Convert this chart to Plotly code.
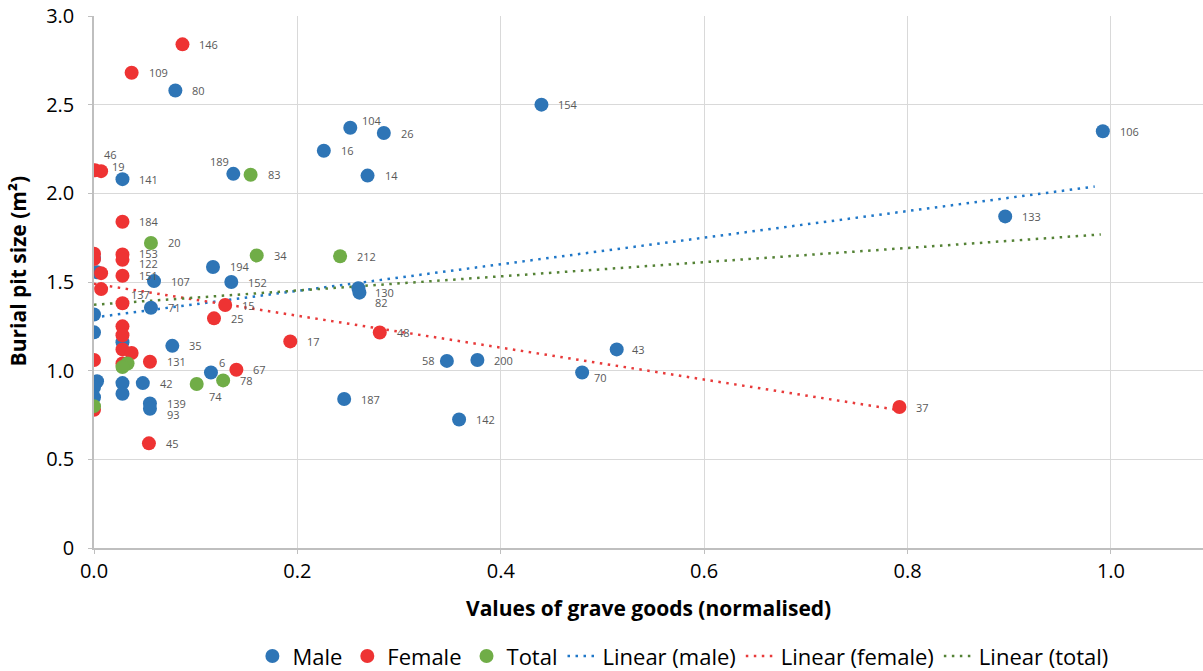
import numpy as np
import plotly.graph_objects as go

# ---------------- data ----------------
male_x = [0.080, 0.440, 0.992, 0.252, 0.285, 0.226, 0.269, 0.137, 0.028, 0.117,
          0.135, 0.059, 0.260, 0.261, 0.896, 0.056, 0.077, 0.115, 0.048, 0.055,
          0.055, 0.246, 0.347, 0.377, 0.359, 0.480, 0.514,
          0.000, 0.003, 0.000, 0.000, 0.028, 0.003, 0.000, 0.000, 0.028, 0.028]
male_y = [2.58, 2.50, 2.35, 2.37, 2.34, 2.24, 2.10, 2.11, 2.08, 1.585,
          1.50, 1.505, 1.465, 1.44, 1.87, 1.355, 1.14, 0.99, 0.93, 0.815,
          0.785, 0.84, 1.055, 1.06, 0.725, 0.99, 1.12,
          1.635, 1.555, 1.317, 1.216, 1.16, 0.94, 0.906, 0.85, 0.93, 0.87]
male_lbl = ["80", "154", "106", "104", "26", "16", "14", "189", "141", "194",
            "152", "107", "130", "82", "133", "71", "35", "6", "42", "139",
            "93", "187", "58", "200", "142", "70", "43",
            "", "", "", "", "", "", "", "", "", ""]

female_x = [0.087, 0.037, 0.007, 0.001, 0.028, 0.028, 0.028, 0.028, 0.028, 0.129,
            0.118, 0.193, 0.281, 0.055, 0.140, 0.054, 0.792,
            0.000, 0.000, 0.007, 0.007, 0.028, 0.028, 0.028, 0.037, 0.028, 0.000, 0.000]
female_y = [2.84, 2.68, 2.125, 2.13, 1.84, 1.655, 1.625, 1.535, 1.38, 1.37,
            1.295, 1.165, 1.215, 1.05, 1.005, 0.59, 0.795,
            1.66, 1.63, 1.55, 1.46, 1.25, 1.20, 1.12, 1.10, 1.04, 1.06, 0.78]
female_lbl = ["146", "109", "46", "19", "184", "153", "122", "151", "137", "15",
              "25", "17", "48", "131", "67", "45", "37",
              "", "", "", "", "", "", "", "", "", "", ""]

total_x = [0.154, 0.056, 0.160, 0.242, 0.101, 0.127, 0.033, 0.028, 0.000]
total_y = [2.105, 1.72, 1.65, 1.645, 0.925, 0.945, 1.04, 1.02, 0.80]
total_lbl = ["83", "20", "34", "212", "74", "78", "", "", ""]

# linear trend lines: [x start, x end], intercept, slope
trend_male_x = [0.0, 0.984]
trend_male_coef = (1.30, 0.75)
trend_female_x = [0.0, 0.79]
trend_female_coef = (1.49, -0.90)
trend_total_x = [0.0, 0.99]
trend_total_coef = (1.372, 0.40)

x_ticks = [0.0, 0.2, 0.4, 0.6, 0.8, 1.0]
y_ticks = [0, 0.5, 1.0, 1.5, 2.0, 2.5, 3.0]
y_ticktext = ["0", "0.5", "1.0", "1.5", "2.0", "2.5", "3.0"]

# ---------------- styles ----------------
C_MALE = "#2E75B6"
C_FEMALE = "#EE3333"
C_TOTAL = "#70AD47"
C_MALE_LINE = "#1F77C8"
C_FEMALE_LINE = "#E83A3A"
C_TOTAL_LINE = "#548235"
FONT = "Open Sans"

# label pixel offsets: (xanchor, xshift, yshift); default right of marker
label_style = {
    "46": ("left", 1, 17),
    "19": ("left", 15, 4),
    "189": ("right", -2, 12),
    "104": ("left", 10, 7),
    "153": ("left", 15, 1),
    "122": ("left", 15, -4),
    "130": ("left", 15, -4),
    "82": ("left", 14, -10),
    "137": ("left", 7, 9),
    "6": ("left", 6, 10),
    "74": ("left", 10, -13),
    "93": ("left", 15, -6),
    "58": ("right", -10, 0),
    "70": ("left", 10, -5),
    "43": ("left", 13, 0),
}
default_style = ("left", 15, 0)

fig = go.Figure()

def trend(xs, coef):
    xs = np.array(xs)
    return xs, coef[0] + coef[1] * xs

for name, xs, coef, col, rank in [
    ("Linear (male)", trend_male_x, trend_male_coef, C_MALE_LINE, 4),
    ("Linear (female)", trend_female_x, trend_female_coef, C_FEMALE_LINE, 5),
    ("Linear (total)", trend_total_x, trend_total_coef, C_TOTAL_LINE, 6),
]:
    tx, ty = trend(xs, coef)
    fig.add_trace(go.Scatter(x=tx, y=ty, mode="lines", name=name, legendrank=rank,
                             line=dict(color=col, width=2.5, dash="2.5px,5.5px"),
                             hoverinfo="skip"))

for name, xs, ys, col, rank in [
    ("Male", male_x, male_y, C_MALE, 1),
    ("Female", female_x, female_y, C_FEMALE, 2),
    ("Total", total_x, total_y, C_TOTAL, 3),
]:
    fig.add_trace(go.Scatter(x=xs, y=ys, mode="markers", name=name, legendrank=rank,
                             marker=dict(color=col, size=14, line=dict(width=0))))

annotations = []
for xs, ys, lbls in [(male_x, male_y, male_lbl), (female_x, female_y, female_lbl),
                     (total_x, total_y, total_lbl)]:
    for x, y, t in zip(xs, ys, lbls):
        if not t:
            continue
        anc, dx, dy = label_style.get(t, default_style)
        annotations.append(dict(x=x, y=y, xref="x", yref="y", text=t, showarrow=False,
                                xanchor=anc, yanchor="middle", xshift=dx, yshift=dy,
                                font=dict(family=FONT, size=11, color="#595959")))

annotations.append(dict(text="<b>Values of grave goods (normalised)</b>", xref="paper", yref="paper",
                        x=0.5, y=-0.113, xanchor="center", yanchor="middle", showarrow=False,
                        font=dict(family=FONT, size=21, color="#000000")))
annotations.append(dict(text="<b>Burial pit size (m²)</b>", xref="paper", yref="paper",
                        x=-0.0685, y=0.52, xanchor="center", yanchor="middle", showarrow=False,
                        textangle=-90, font=dict(family=FONT, size=21, color="#000000")))

fig.update_layout(
    width=1203, height=671,
    margin=dict(l=94, r=0, t=16, b=123, autoexpand=False),
    paper_bgcolor="white", plot_bgcolor="white",
    font=dict(family=FONT, size=20, color="#000000"),
    showlegend=True,
    legend=dict(orientation="h", x=0.531, xanchor="center",
                yref="container", y=0.022, yanchor="middle",
                font=dict(family=FONT, size=22, color="#000000"), traceorder="normal",
                itemwidth=30),
    annotations=annotations,
)
fig.update_xaxes(range=[0, 1.0905], tickvals=x_ticks, tickformat=".1f",
                 showgrid=True, gridcolor="#D9D9D9", gridwidth=1,
                 showline=True, linecolor="#BFBFBF", linewidth=1.5,
                 ticks="outside", ticklen=4, tickcolor="#BFBFBF", automargin=False,
                 zeroline=False, tickfont=dict(family=FONT, size=20, color="#000000"))
fig.update_yaxes(range=[0, 3.0], tickvals=y_ticks, ticktext=y_ticktext,
                 showgrid=True, gridcolor="#D9D9D9", gridwidth=1,
                 showline=True, linecolor="#BFBFBF", linewidth=1.5, automargin=False,
                 ticks="outside", ticklen=4, tickcolor="#BFBFBF", ticklabelstandoff=10,
                 zeroline=False, tickfont=dict(family=FONT, size=20, color="#000000"))

fig.write_html("out.html")
